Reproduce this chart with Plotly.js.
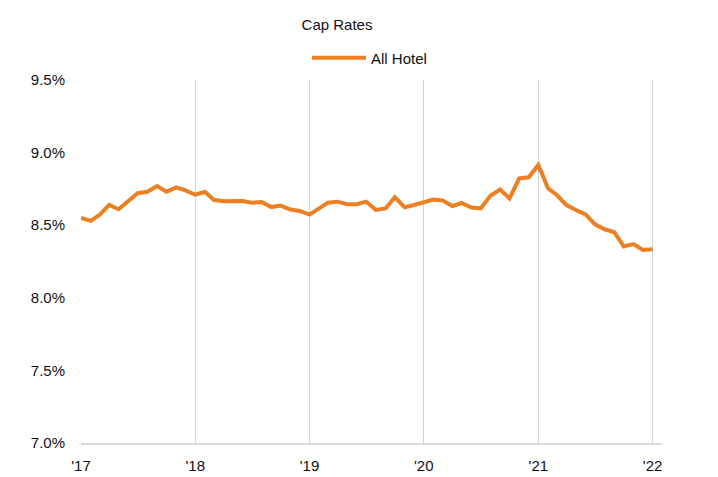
<!DOCTYPE html>
<html>
<head>
<meta charset="utf-8">
<script src="https://cdn.plot.ly/plotly-3.0.1.min.js"></script>
<style>
html,body{margin:0;padding:0;background:#fff;}
#chart{width:718px;height:477px;}
</style>
</head>
<body>
<div id="chart"></div>
<script>
// Monthly cap rates (%), Jan 2017 - Jan 2022
const startYear = 2017;
const capRate2017 = [8.55, 8.53, 8.57, 8.64, 8.61, 8.67, 8.72, 8.73, 8.77, 8.73, 8.76, 8.74];
const capRate2018 = [8.71, 8.73, 8.675, 8.665, 8.665, 8.667, 8.655, 8.66, 8.625, 8.635, 8.608, 8.598];
const capRate2019 = [8.573, 8.612, 8.655, 8.662, 8.645, 8.645, 8.662, 8.605, 8.616, 8.692, 8.623, 8.639];
const capRate2020 = [8.658, 8.676, 8.671, 8.632, 8.653, 8.622, 8.616, 8.703, 8.745, 8.685, 8.822, 8.83];
const capRate2021 = [8.915, 8.754, 8.708, 8.639, 8.605, 8.575, 8.506, 8.472, 8.451, 8.354, 8.37, 8.33];
const capRate2022 = [8.335];

const seriesName = "All Hotel";
const chartTitle = "Cap Rates";
const xTickLabels = ["'17", "'18", "'19", "'20", "'21", "'22"];
const yTickValues = [7.0, 7.5, 8.0, 8.5, 9.0, 9.5];

const values = [].concat(capRate2017, capRate2018, capRate2019, capRate2020, capRate2021, capRate2022);
const dates = values.map((v, i) => {
  const y = startYear + Math.floor(i / 12);
  const m = (i % 12) + 1;
  return y + "-" + String(m).padStart(2, "0") + "-01";
});
const xTickVals = xTickLabels.map((t, i) => (startYear + i) + "-01-01");

const FONT = "Liberation Sans, Arial, sans-serif";
const trace = {
  x: dates,
  y: values,
  type: "scatter",
  mode: "lines",
  name: seriesName,
  line: {color: "#EC7F22", width: 4}
};

const layout = {
  width: 718,
  height: 477,
  paper_bgcolor: "#ffffff",
  plot_bgcolor: "#ffffff",
  font: {family: FONT, size: 15, color: "#111111"},
  margin: {l: 81, r: 56, t: 80, b: 34},
  title: {
    text: chartTitle,
    font: {family: FONT, size: 15, color: "#111111"},
    x: 337 / 718, xref: "container", xanchor: "center",
    y: 1 - 25 / 477, yref: "container", yanchor: "middle"
  },
  showlegend: true,
  legend: {
    orientation: "h",
    xref: "container", yref: "container",
    x: 307 / 718, xanchor: "left",
    y: 1 - 58 / 477, yanchor: "middle",
    font: {family: FONT, size: 15, color: "#111111"},
    itemwidth: 54,
    bgcolor: "rgba(0,0,0,0)"
  },
  xaxis: {
    type: "date",
    range: ["2017-01-01", "2022-01-31"],
    tickmode: "array",
    tickvals: xTickVals,
    ticktext: xTickLabels,
    showgrid: true,
    gridcolor: "#D4D4D4",
    gridwidth: 1,
    showline: true,
    linecolor: "#D9D9D9",
    linewidth: 1.5,
    ticks: "",
    ticklabelstandoff: 8,
    zeroline: false,
    tickfont: {family: FONT, size: 15, color: "#111111"}
  },
  yaxis: {
    range: [7.0, 9.5],
    tickmode: "array",
    tickvals: yTickValues,
    ticktext: yTickValues.map(v => v.toFixed(1) + "%"),
    showgrid: false,
    showline: false,
    zeroline: false,
    ticks: "",
    ticklabelstandoff: 15,
    tickfont: {family: FONT, size: 15, color: "#111111"}
  }
};

Plotly.newPlot("chart", [trace], layout, {displayModeBar: false, staticPlot: true});
</script>
</body>
</html>
